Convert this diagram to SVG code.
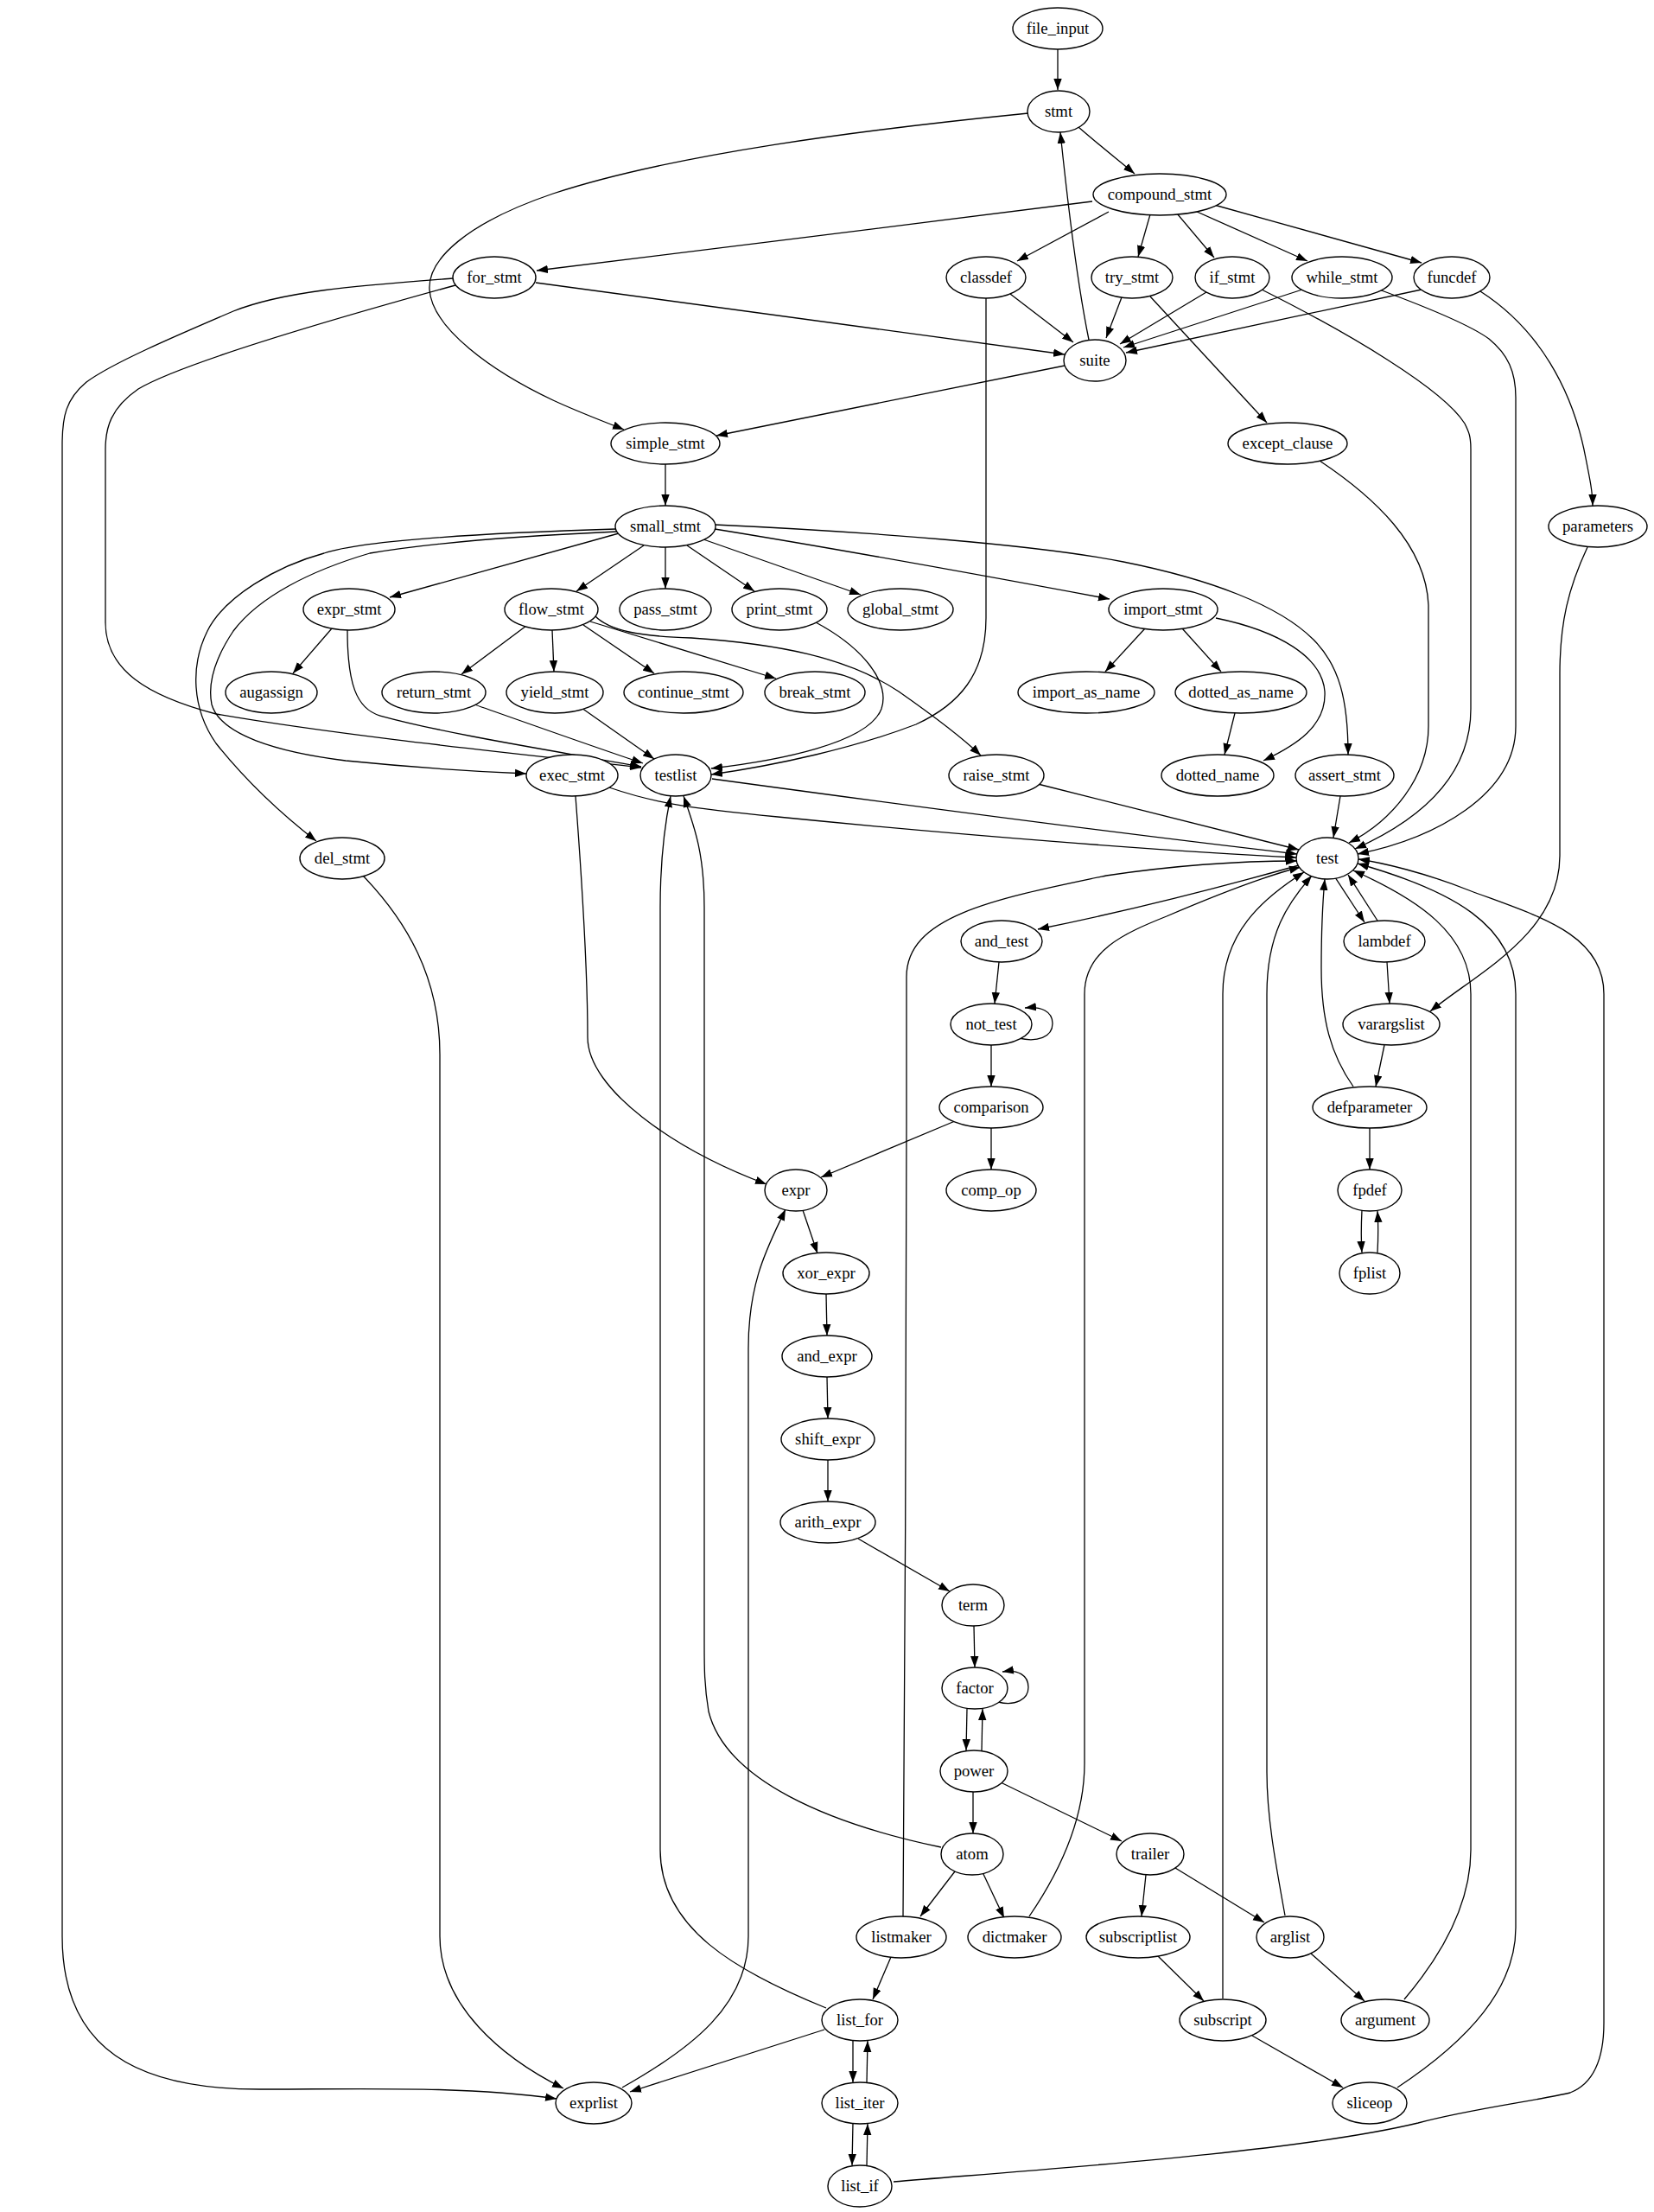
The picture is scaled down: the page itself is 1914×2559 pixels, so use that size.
<svg xmlns="http://www.w3.org/2000/svg" width="1914" height="2559" viewBox="0 0 1914 2559">
<style>
.n ellipse{fill:#fff;stroke:#000;stroke-width:1.4}
.n text{font-family:"Liberation Serif","Times New Roman",serif;font-size:18.7px;text-anchor:middle;fill:#000}
#edges path{fill:none;stroke:#000;stroke-width:1.3;marker-end:url(#a)}
</style>
<defs>
<marker id="a" markerWidth="14" markerHeight="10" refX="13" refY="5" orient="auto" markerUnits="userSpaceOnUse"><path d="M0,0.3 L13,5 L0,9.7 z" fill="#000"/></marker>
</defs>
<rect width="1914" height="2559" fill="#fff"/>
<g id="edges">
<path d="M1224,57 L1224,104"/>
<path d="M1248,147 C1265,162 1290,182 1313,201"/>
<path d="M1190,131 C1000,150 780,178 640,224 C540,258 495,300 497,335 C500,380 570,430 640,463 C670,477 700,488 722,497"/>
<path d="M1264,233 C1100,255 800,290 621,313"/>
<path d="M1283,245 L1177,302"/>
<path d="M1331,248 L1317,297"/>
<path d="M1362,247 L1405,298"/>
<path d="M1383,244 L1513,302"/>
<path d="M1405,237 L1645,304"/>
<path d="M620,327 L1232,410"/>
<path d="M527,330 C400,365 210,420 160,450 C128,472 122,495 122,520 L122,720 C122,775 170,805 250,826 C400,852 600,872 742,888"/>
<path d="M524,322 C420,330 330,336 270,360 C200,390 130,420 100,442 C76,462 72,482 72,515 L72,2240 C72,2372 160,2417 300,2417 C420,2417 540,2413 644,2428"/>
<path d="M1169,340 L1242,396"/>
<path d="M1141,344 L1141,715 C1141,780 1110,815 1060,838 C990,865 900,885 823,896"/>
<path d="M1298,344 L1280,391"/>
<path d="M1331,343 L1466,489"/>
<path d="M1396,338 L1296,398"/>
<path d="M1460,335 C1560,385 1670,450 1695,490 C1700,500 1702,505 1702,520 L1702,820 C1702,900 1640,950 1568,982"/>
<path d="M1507,335 L1300,402"/>
<path d="M1596,335 C1650,355 1700,375 1723,392 C1745,410 1754,430 1754,460 L1754,840 C1754,920 1660,970 1571,988"/>
<path d="M1645,335 L1303,408"/>
<path d="M1713,337 C1780,380 1820,450 1835,530 C1840,555 1843,570 1843,585"/>
<path d="M1260,393 C1245,320 1235,230 1227,153"/>
<path d="M1232,423 L829,504"/>
<path d="M1527,533 C1590,575 1650,630 1653,700 L1653,840 C1653,900 1610,950 1561,975"/>
<path d="M770,537 L770,585"/>
<path d="M1837,633 C1815,680 1805,720 1805,780 L1805,990 C1805,1080 1710,1125 1655,1170"/>
<path d="M716,617 L451,691"/>
<path d="M745,631 L667,684"/>
<path d="M770,633 L770,681"/>
<path d="M795,631 L873,684"/>
<path d="M814,624 L996,688"/>
<path d="M827,612 C1000,640 1150,668 1284,693"/>
<path d="M827,607 C1000,615 1200,630 1300,650 C1400,670 1480,700 1520,740 C1550,770 1560,810 1560,873"/>
<path d="M714,615 C600,620 500,628 428,640 C360,660 300,690 270,730 C250,760 240,790 245,815 C255,850 320,870 400,880 C480,888 560,893 609,895"/>
<path d="M713,612 C550,617 420,625 375,640 C320,655 260,690 240,730 C220,770 222,820 250,860 C290,910 330,945 366,973"/>
<path d="M384,727 L339,779"/>
<path d="M402,729 C402,790 412,820 440,828 C520,850 650,870 742,887"/>
<path d="M609,724 L534,780"/>
<path d="M639,729 L641,777"/>
<path d="M675,723 L757,779"/>
<path d="M683,719 L898,785"/>
<path d="M688,712 C705,730 740,736 800,738 C900,745 980,760 1040,800 C1080,828 1110,850 1135,874"/>
<path d="M944,720 C1000,750 1030,790 1020,820 C1005,860 900,880 823,889"/>
<path d="M549,815 C620,840 690,865 744,883"/>
<path d="M673,819 L757,878"/>
<path d="M1325,727 L1279,777"/>
<path d="M1368,727 L1413,777"/>
<path d="M1407,715 C1480,730 1530,760 1533,800 C1535,840 1500,862 1462,880"/>
<path d="M1429,825 L1417,873"/>
<path d="M705,911 C760,930 800,935 900,945 C1100,965 1350,985 1500,992"/>
<path d="M666,921 C672,1000 680,1120 680,1200 C680,1260 780,1330 887,1370"/>
<path d="M824,901 C1000,925 1300,965 1501,988"/>
<path d="M1201,907 L1503,983"/>
<path d="M1551,921 L1543,969"/>
<path d="M420,1013 C470,1065 509,1130 509,1220 L509,2240 C509,2320 580,2380 652,2416"/>
<path d="M1503,1001 C1400,1030 1300,1055 1201,1075"/>
<path d="M1545,1015 L1579,1067"/>
<path d="M1594,1065 L1560,1012"/>
<path d="M1605,1113 L1608,1161"/>
<path d="M1156,1113 L1151,1161"/>
<path d="M1179,1201 C1200,1206 1218,1200 1218,1184 C1218,1170 1205,1164 1186,1166"/>
<path d="M1147,1209 L1147,1257"/>
<path d="M1602,1209 L1592,1257"/>
<path d="M1105,1297 L950,1362"/>
<path d="M1147,1305 L1147,1353"/>
<path d="M1566,1257 C1540,1220 1529,1180 1529,1120 C1529,1080 1530,1050 1533,1017"/>
<path d="M1585,1305 L1585,1353"/>
<path d="M929,1400 L946,1450"/>
<path d="M1576,1400 C1575,1420 1575,1435 1576,1449"/>
<path d="M1594,1449 C1595,1430 1595,1415 1594,1401"/>
<path d="M956,1497 L957,1545"/>
<path d="M957,1593 L958,1641"/>
<path d="M958,1689 L958,1737"/>
<path d="M993,1780 L1099,1841"/>
<path d="M1127,1881 L1128,1929"/>
<path d="M1155,1969 C1175,1974 1190,1966 1190,1952 C1190,1938 1178,1931 1160,1934"/>
<path d="M1119,1977 L1118,2025"/>
<path d="M1136,2025 L1137,1977"/>
<path d="M1126,2073 L1126,2121"/>
<path d="M1158,2062 L1298,2130"/>
<path d="M1089,2137 C960,2110 840,2060 820,1980 C815,1950 815,1930 815,1900 L815,1050 C815,990 805,960 791,921"/>
<path d="M1105,2165 L1065,2217"/>
<path d="M1137,2166 L1162,2219"/>
<path d="M1326,2169 L1321,2217"/>
<path d="M1360,2161 L1463,2224"/>
<path d="M1045,2217 C1047,2000 1049,1500 1049,1300 L1049,1130 C1049,1060 1150,1040 1280,1013 C1380,998 1450,996 1501,996"/>
<path d="M1031,2264 L1010,2313"/>
<path d="M1191,2217 C1230,2160 1255,2100 1255,2040 L1255,1150 C1255,1100 1300,1080 1350,1060 C1420,1030 1470,1012 1505,1003"/>
<path d="M1340,2263 L1393,2315"/>
<path d="M1487,2216 C1475,2150 1466,2100 1466,2050 L1466,1150 C1466,1080 1490,1045 1518,1013"/>
<path d="M1517,2260 L1579,2315"/>
<path d="M956,2323 C850,2280 764,2230 764,2140 L764,1050 C764,990 770,950 776,921"/>
<path d="M954,2348 L729,2420"/>
<path d="M987,2360 L987,2409"/>
<path d="M1415,2312 L1415,1150 C1415,1080 1460,1040 1509,1009"/>
<path d="M1449,2355 L1554,2415"/>
<path d="M1625,2313 C1670,2260 1702,2200 1702,2140 L1702,1150 C1702,1080 1640,1040 1566,1007"/>
<path d="M720,2415 C800,2370 866,2320 866,2240 L866,1560 C866,1480 890,1440 909,1399"/>
<path d="M1003,2409 L1004,2361"/>
<path d="M987,2456 L986,2505"/>
<path d="M1617,2415 C1700,2360 1754,2300 1754,2230 L1754,1150 C1754,1070 1680,1030 1571,999"/>
<path d="M1003,2505 L1004,2457"/>
<path d="M1034,2524 C1200,2510 1500,2490 1641,2456 C1700,2440 1780,2430 1817,2421 C1845,2410 1856,2380 1856,2340 L1856,1150 C1856,1080 1780,1060 1700,1030 C1650,1010 1600,998 1572,994"/>
</g>
<g id="n_file_input" class="n"><ellipse cx="1224" cy="33" rx="52" ry="24"/><text x="1224" y="39">file_input</text></g>
<g id="n_stmt" class="n"><ellipse cx="1225" cy="129" rx="36" ry="24"/><text x="1225" y="135">stmt</text></g>
<g id="n_compound_stmt" class="n"><ellipse cx="1342" cy="225" rx="77" ry="24"/><text x="1342" y="231">compound_stmt</text></g>
<g id="n_for_stmt" class="n"><ellipse cx="572" cy="321" rx="48" ry="24"/><text x="572" y="327">for_stmt</text></g>
<g id="n_classdef" class="n"><ellipse cx="1141" cy="321" rx="46" ry="24"/><text x="1141" y="327">classdef</text></g>
<g id="n_try_stmt" class="n"><ellipse cx="1310" cy="321" rx="47" ry="24"/><text x="1310" y="327">try_stmt</text></g>
<g id="n_if_stmt" class="n"><ellipse cx="1426" cy="321" rx="43" ry="24"/><text x="1426" y="327">if_stmt</text></g>
<g id="n_while_stmt" class="n"><ellipse cx="1553" cy="321" rx="58" ry="24"/><text x="1553" y="327">while_stmt</text></g>
<g id="n_funcdef" class="n"><ellipse cx="1680" cy="321" rx="44" ry="24"/><text x="1680" y="327">funcdef</text></g>
<g id="n_suite" class="n"><ellipse cx="1267" cy="417" rx="36" ry="24"/><text x="1267" y="423">suite</text></g>
<g id="n_simple_stmt" class="n"><ellipse cx="770" cy="513" rx="63" ry="24"/><text x="770" y="519">simple_stmt</text></g>
<g id="n_except_clause" class="n"><ellipse cx="1490" cy="513" rx="69" ry="24"/><text x="1490" y="519">except_clause</text></g>
<g id="n_small_stmt" class="n"><ellipse cx="770" cy="609" rx="58" ry="24"/><text x="770" y="615">small_stmt</text></g>
<g id="n_parameters" class="n"><ellipse cx="1849" cy="609" rx="57" ry="24"/><text x="1849" y="615">parameters</text></g>
<g id="n_expr_stmt" class="n"><ellipse cx="404" cy="705" rx="53" ry="24"/><text x="404" y="711">expr_stmt</text></g>
<g id="n_flow_stmt" class="n"><ellipse cx="638" cy="705" rx="54" ry="24"/><text x="638" y="711">flow_stmt</text></g>
<g id="n_pass_stmt" class="n"><ellipse cx="770" cy="705" rx="53" ry="24"/><text x="770" y="711">pass_stmt</text></g>
<g id="n_print_stmt" class="n"><ellipse cx="902" cy="705" rx="55" ry="24"/><text x="902" y="711">print_stmt</text></g>
<g id="n_global_stmt" class="n"><ellipse cx="1042" cy="705" rx="61" ry="24"/><text x="1042" y="711">global_stmt</text></g>
<g id="n_import_stmt" class="n"><ellipse cx="1346" cy="705" rx="63" ry="24"/><text x="1346" y="711">import_stmt</text></g>
<g id="n_augassign" class="n"><ellipse cx="314" cy="801" rx="53" ry="24"/><text x="314" y="807">augassign</text></g>
<g id="n_return_stmt" class="n"><ellipse cx="502" cy="801" rx="60" ry="24"/><text x="502" y="807">return_stmt</text></g>
<g id="n_yield_stmt" class="n"><ellipse cx="642" cy="801" rx="56" ry="24"/><text x="642" y="807">yield_stmt</text></g>
<g id="n_continue_stmt" class="n"><ellipse cx="791" cy="801" rx="69" ry="24"/><text x="791" y="807">continue_stmt</text></g>
<g id="n_break_stmt" class="n"><ellipse cx="943" cy="801" rx="58" ry="24"/><text x="943" y="807">break_stmt</text></g>
<g id="n_import_as_name" class="n"><ellipse cx="1257" cy="801" rx="79" ry="24"/><text x="1257" y="807">import_as_name</text></g>
<g id="n_dotted_as_name" class="n"><ellipse cx="1436" cy="801" rx="76" ry="24"/><text x="1436" y="807">dotted_as_name</text></g>
<g id="n_exec_stmt" class="n"><ellipse cx="662" cy="897" rx="53" ry="24"/><text x="662" y="903">exec_stmt</text></g>
<g id="n_testlist" class="n"><ellipse cx="782" cy="897" rx="41" ry="24"/><text x="782" y="903">testlist</text></g>
<g id="n_raise_stmt" class="n"><ellipse cx="1153" cy="897" rx="55" ry="24"/><text x="1153" y="903">raise_stmt</text></g>
<g id="n_dotted_name" class="n"><ellipse cx="1409" cy="897" rx="65" ry="24"/><text x="1409" y="903">dotted_name</text></g>
<g id="n_assert_stmt" class="n"><ellipse cx="1556" cy="897" rx="57" ry="24"/><text x="1556" y="903">assert_stmt</text></g>
<g id="n_del_stmt" class="n"><ellipse cx="396" cy="993" rx="49" ry="24"/><text x="396" y="999">del_stmt</text></g>
<g id="n_test" class="n"><ellipse cx="1536" cy="993" rx="36" ry="24"/><text x="1536" y="999">test</text></g>
<g id="n_and_test" class="n"><ellipse cx="1159" cy="1089" rx="47" ry="24"/><text x="1159" y="1095">and_test</text></g>
<g id="n_lambdef" class="n"><ellipse cx="1602" cy="1089" rx="47" ry="24"/><text x="1602" y="1095">lambdef</text></g>
<g id="n_not_test" class="n"><ellipse cx="1147" cy="1185" rx="47" ry="24"/><text x="1147" y="1191">not_test</text></g>
<g id="n_varargslist" class="n"><ellipse cx="1610" cy="1185" rx="56" ry="24"/><text x="1610" y="1191">varargslist</text></g>
<g id="n_comparison" class="n"><ellipse cx="1147" cy="1281" rx="60" ry="24"/><text x="1147" y="1287">comparison</text></g>
<g id="n_defparameter" class="n"><ellipse cx="1585" cy="1281" rx="66" ry="24"/><text x="1585" y="1287">defparameter</text></g>
<g id="n_expr" class="n"><ellipse cx="921" cy="1377" rx="36" ry="24"/><text x="921" y="1383">expr</text></g>
<g id="n_comp_op" class="n"><ellipse cx="1147" cy="1377" rx="52" ry="24"/><text x="1147" y="1383">comp_op</text></g>
<g id="n_fpdef" class="n"><ellipse cx="1585" cy="1377" rx="37" ry="24"/><text x="1585" y="1383">fpdef</text></g>
<g id="n_xor_expr" class="n"><ellipse cx="956" cy="1473" rx="50" ry="24"/><text x="956" y="1479">xor_expr</text></g>
<g id="n_fplist" class="n"><ellipse cx="1585" cy="1473" rx="35" ry="24"/><text x="1585" y="1479">fplist</text></g>
<g id="n_and_expr" class="n"><ellipse cx="957" cy="1569" rx="52" ry="24"/><text x="957" y="1575">and_expr</text></g>
<g id="n_shift_expr" class="n"><ellipse cx="958" cy="1665" rx="54" ry="24"/><text x="958" y="1671">shift_expr</text></g>
<g id="n_arith_expr" class="n"><ellipse cx="958" cy="1761" rx="55" ry="24"/><text x="958" y="1767">arith_expr</text></g>
<g id="n_term" class="n"><ellipse cx="1126" cy="1857" rx="36" ry="24"/><text x="1126" y="1863">term</text></g>
<g id="n_factor" class="n"><ellipse cx="1128" cy="1953" rx="38" ry="24"/><text x="1128" y="1959">factor</text></g>
<g id="n_power" class="n"><ellipse cx="1127" cy="2049" rx="39" ry="24"/><text x="1127" y="2055">power</text></g>
<g id="n_atom" class="n"><ellipse cx="1125" cy="2145" rx="36" ry="24"/><text x="1125" y="2151">atom</text></g>
<g id="n_trailer" class="n"><ellipse cx="1331" cy="2145" rx="39" ry="24"/><text x="1331" y="2151">trailer</text></g>
<g id="n_listmaker" class="n"><ellipse cx="1043" cy="2241" rx="52" ry="24"/><text x="1043" y="2247">listmaker</text></g>
<g id="n_dictmaker" class="n"><ellipse cx="1174" cy="2241" rx="54" ry="24"/><text x="1174" y="2247">dictmaker</text></g>
<g id="n_subscriptlist" class="n"><ellipse cx="1317" cy="2241" rx="60" ry="24"/><text x="1317" y="2247">subscriptlist</text></g>
<g id="n_arglist" class="n"><ellipse cx="1493" cy="2241" rx="39" ry="24"/><text x="1493" y="2247">arglist</text></g>
<g id="n_list_for" class="n"><ellipse cx="995" cy="2337" rx="44" ry="24"/><text x="995" y="2343">list_for</text></g>
<g id="n_subscript" class="n"><ellipse cx="1415" cy="2337" rx="50" ry="24"/><text x="1415" y="2343">subscript</text></g>
<g id="n_argument" class="n"><ellipse cx="1603" cy="2337" rx="51" ry="24"/><text x="1603" y="2343">argument</text></g>
<g id="n_exprlist" class="n"><ellipse cx="687" cy="2433" rx="44" ry="24"/><text x="687" y="2439">exprlist</text></g>
<g id="n_list_iter" class="n"><ellipse cx="995" cy="2433" rx="44" ry="24"/><text x="995" y="2439">list_iter</text></g>
<g id="n_sliceop" class="n"><ellipse cx="1585" cy="2433" rx="43" ry="24"/><text x="1585" y="2439">sliceop</text></g>
<g id="n_list_if" class="n"><ellipse cx="995" cy="2529" rx="37" ry="24"/><text x="995" y="2535">list_if</text></g>
</svg>
